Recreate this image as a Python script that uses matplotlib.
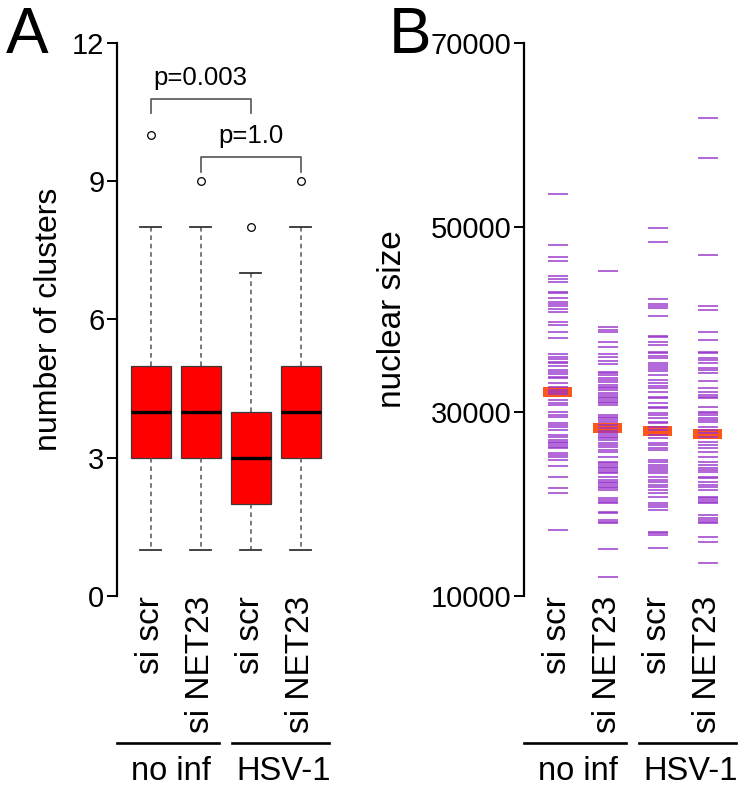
import matplotlib
matplotlib.use("Agg")
import matplotlib.pyplot as plt
import matplotlib.transforms as mtransforms

plt.rcParams['font.family'] = ['Liberation Sans', 'DejaVu Sans']

# ---- data -------------------------------------------------------------
conditions = ["si scr", "si NET23", "si scr", "si NET23"]
groups = ["no inf", "HSV-1"]

# panel A: number of clusters (box summaries)
box_med = [4, 4, 3, 4]
box_q1 = [3, 3, 2, 3]
box_q3 = [5, 5, 4, 5]
whis_lo = [1, 1, 1, 1]
whis_hi = [8, 8, 7, 8]
outliers = [[10], [9], [8], [9]]

pvals = ["p=0.003", "p=1.0"]
p_pairs = [(1, 3), (2, 4)]
p_heights = [10.78, 9.52]

# panel B: nuclear size, one value per cell
size_scr_noinf = [53590, 48045, 46740, 46310, 44680, 44350, 44020, 42940, 42830, 42280,
                  41850, 41630, 41410, 41090, 40760, 39780, 39350, 38590, 37940, 36200,
                  35980, 35760, 35440, 35330, 35000, 34570, 34350, 34130, 33810, 33700,
                  33150, 32720, 32390, 32180, 31960, 31310, 30980, 30760, 30000, 29680,
                  29460, 28810, 28590, 28370, 28040, 27500, 27280, 26960, 26740, 26630,
                  26410, 26200, 26090, 25540, 25330, 25110, 24780, 24130, 22940, 21740,
                  21200, 17170]
size_net_noinf = [45220, 39130, 38810, 38590, 37610, 36960, 36200, 35980, 35540, 35220,
                  34350, 34240, 34020, 33700, 33480, 33260, 32940, 32720, 32610, 32390,
                  32070, 31850, 31630, 31520, 31310, 31090, 30980, 30760, 29680, 29460,
                  29350, 29130, 28910, 28590, 28260, 27940, 27720, 27500, 27280, 27170,
                  26960, 26630, 26410, 26200, 25870, 25650, 25110, 24570, 24460, 24240,
                  24020, 23910, 23700, 23480, 23370, 22940, 22610, 22390, 22280, 22070,
                  21850, 21740, 21520, 20650, 20440, 20220, 20110, 19130, 19020, 18260,
                  18040, 17940, 15110, 12070]
size_scr_hsv = [49890, 48370, 42180, 41630, 41410, 41200, 40330, 38260, 38150, 37610,
                37180, 36520, 36410, 36090, 35870, 35330, 35110, 34890, 34670, 34460,
                34020, 33480, 33150, 32830, 32610, 32170, 31630, 31520, 30980, 30540,
                30440, 29890, 29670, 29350, 28910, 28810, 28370, 28040, 27500, 27170,
                26630, 26410, 26090, 25870, 24780, 24570, 24240, 24020, 23800, 23590,
                23370, 22940, 22610, 22390, 22070, 21850, 21520, 21200, 20760, 20110,
                19890, 19670, 19350, 16960, 16850, 16630, 15220]
size_net_hsv = [61850, 57500, 46960, 41410, 40980, 38590, 37720, 36520, 36410, 35870,
                35650, 35330, 34780, 34570, 34240, 33370, 32610, 32170, 31850, 31630,
                31520, 30540, 30000, 29890, 29670, 29350, 29130, 28910, 28370, 28040,
                27720, 27280, 26740, 26410, 26090, 25650, 25110, 24570, 24240, 23910,
                23700, 23480, 22940, 22830, 22390, 22070, 21850, 21520, 20760, 20650,
                20440, 20220, 20110, 18800, 18480, 18260, 18040, 17940, 16410, 15870,
                13590]
size_medians = [32170, 28260, 27930, 27600]

# ---- figure -------------------------------------------------------------
fig = plt.figure(figsize=(7.44, 7.90), dpi=100)
axA = fig.add_axes([0.157, 0.2456, 0.293, 0.700])
axB = fig.add_axes([0.704, 0.2456, 0.293, 0.700])
pos = [1, 2, 3, 4]


def style_axis(ax, yticks, ylim):
    for s in ["top", "right", "bottom"]:
        ax.spines[s].set_visible(False)
    ax.spines["left"].set_linewidth(1.6)
    ax.set_ylim(*ylim)
    ax.set_xlim(0.32, 4.68)
    ax.set_yticks(yticks)
    ax.set_yticklabels([str(t) for t in yticks])
    ax.tick_params(axis="y", length=7, width=1.4, labelsize=21, pad=2)
    ax.set_xticks(pos)
    ax.set_xticklabels(conditions, rotation=90, fontsize=24, va="top", ha="center")
    ax.tick_params(axis="x", length=0, pad=0)
    # group lines and labels under the tick labels
    tr = mtransforms.blended_transform_factory(ax.transData, ax.transAxes)
    for (x0, x1), g in zip([(0.32, 2.37), (2.63, 4.57)], groups):
        ax.plot([x0, x1], [-0.266, -0.266], color="black", lw=1.9,
                transform=tr, clip_on=False)
        ax.text((x0 + x1) / 2 + 0.05, -0.318, g, fontsize=23.5, ha="center",
                va="center", transform=tr)


# ---- panel A ------------------------------------------------------------
stats = []
for i in range(4):
    stats.append({"med": box_med[i], "q1": box_q1[i], "q3": box_q3[i],
                  "whislo": whis_lo[i], "whishi": whis_hi[i], "fliers": outliers[i]})
axA.bxp(stats, positions=pos, widths=0.8, capwidths=0.42, patch_artist=True,
        boxprops=dict(facecolor="#ff0000", edgecolor="#3a3a3a", linewidth=0.9),
        medianprops=dict(color="black", linewidth=2.4),
        whiskerprops=dict(color="#555555", linewidth=1.1, linestyle=(0, (3, 2.5))),
        capprops=dict(color="#333333", linewidth=1.3),
        flierprops=dict(marker="o", markerfacecolor="white", markeredgecolor="black",
                        markersize=5.5, markeredgewidth=0.9))
style_axis(axA, [0, 3, 6, 9, 12], (0, 12))
axA.set_ylabel("number of clusters", fontsize=23, labelpad=6)

for (a, b), h, txt in zip(p_pairs, p_heights, pvals):
    axA.plot([a, a, b, b], [h - 0.31, h, h, h - 0.31], color="#555555", lw=1.2,
             clip_on=False)
    axA.text((a + b) / 2, h + 0.46, txt, fontsize=18.5, ha="center", va="center")

# ---- panel B ------------------------------------------------------------
strips = [size_scr_noinf, size_net_noinf, size_scr_hsv, size_net_hsv]
axB.bar(pos, [1100] * 4, bottom=[m - 550 for m in size_medians], width=0.58,
        color="#ff4500", alpha=0.9, zorder=1)
for p, vals in zip(pos, strips):
    axB.hlines(vals, p - 0.2, p + 0.2, color="#9932cc", alpha=0.75, lw=1.4, zorder=2)
style_axis(axB, [10000, 30000, 50000, 70000], (10000, 70000))
axB.set_ylabel("nuclear size", fontsize=24, labelpad=16)

fig.text(0.008, 0.992, "A", fontsize=46, ha="left", va="top")
fig.text(0.522, 0.992, "B", fontsize=46, ha="left", va="top")

fig.savefig("out.png", dpi=100)
